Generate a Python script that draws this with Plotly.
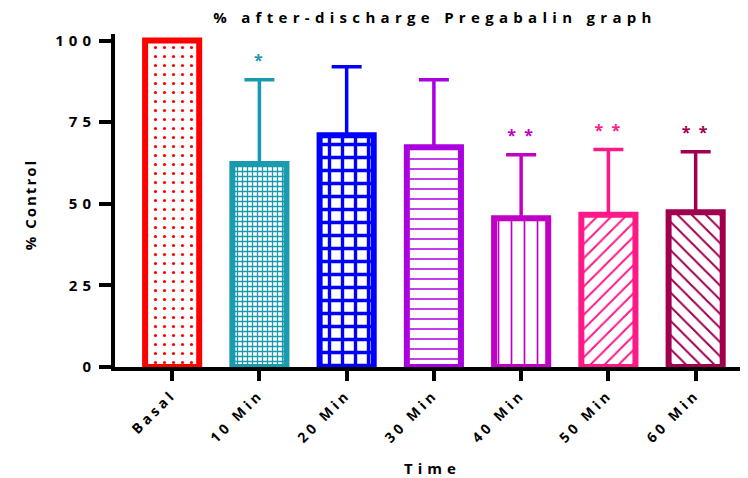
import plotly.graph_objects as go

categories = ["Basal", "10 Min", "20 Min", "30 Min", "40 Min", "50 Min", "60 Min"]
means = [100, 62.2, 71.0, 67.3, 45.6, 46.6, 47.4]
upper = [100, 88.0, 92.0, 88.0, 65.0, 66.6, 65.9]
signif = ["", "*", "", "", "* *", "* *", "* *"]
colors = ["#FF0000", "#1A9AAE", "#0000FF", "#AA00E0", "#C000C4", "#FF1887", "#A0004E"]
patterns = [".", "+", "+", "-", "|", "/", "\\"]
pat_size = [9, 5, 13, 10, 13, 10, 10]
pat_solid = [0.1, 0.45, 0.45, 0.15, 0.13, 0.2, 0.2]
yticks = [0, 25, 50, 75, 100]

FONT = "Open Sans"
W, H = 740, 470  # page body adds 8px offset


def spaced(s, px):
    return f'<span style="letter-spacing:{px}px">{s}</span>'


fig = go.Figure()
for i, c in enumerate(categories):
    err = upper[i] - means[i]
    fig.add_trace(go.Bar(
        x=[c], y=[means[i]], width=0.62,
        marker=dict(
            color=colors[i],
            line=dict(color=colors[i], width=6),
            pattern=dict(shape=patterns[i], fgcolor=colors[i], bgcolor="white",
                         size=pat_size[i], solidity=pat_solid[i], fillmode="replace"),
        ),
        error_y=dict(type="data", symmetric=False, array=[err], arrayminus=[0],
                     visible=err > 0, color=colors[i], thickness=3.5, width=15),
        showlegend=False, cliponaxis=False,
    ))

sx = [c for c, s in zip(categories, signif) if s]
sy = [u + 5.5 for u, s in zip(upper, signif) if s]
st = [spaced(s, 2) for s in signif if s]
sc = [col for col, s in zip(colors, signif) if s]
fig.add_trace(go.Scatter(
    x=sx, y=sy, mode="text", text=st,
    textfont=dict(color=sc, size=16, family=FONT, weight="bold"),
    showlegend=False, cliponaxis=False,
))

fig.update_layout(
    width=W, height=H,
    margin=dict(l=107, r=0, t=25.5, b=111, autoexpand=False),
    paper_bgcolor="white", plot_bgcolor="white",
    barmode="overlay",
    title=dict(text=spaced("% after-discharge Pregabalin graph", 5.3),
               x=(435 - 8) / W, xanchor="center", xref="container",
               y=1 - (18 - 8) / H, yanchor="middle", yref="container",
               font=dict(family=FONT, size=15, color="black", weight="bold")),
    font=dict(family=FONT, color="black"),
    annotations=[
        dict(text=spaced("Time", 5), xref="paper", yref="paper",
             x=(432 - 8 - 107) / (W - 107), y=-(468 - 367) / (H - 25.5 - 111),
             xanchor="center", yanchor="middle", showarrow=False,
             font=dict(family=FONT, size=15, weight="bold")),
        dict(text=spaced("% Control", 2), xref="paper", yref="paper",
             x=-(115 - 30) / (W - 107), y=(367 - 205) / (H - 25.5 - 111),
             xanchor="center", yanchor="middle", showarrow=False, textangle=-90,
             font=dict(family=FONT, size=15, weight="bold")),
    ],
)
fig.update_xaxes(
    categoryorder="array", categoryarray=categories,
    tickvals=categories, ticktext=[spaced(c, 3.6) for c in categories],
    range=[-0.655, 6.6], showline=True, linecolor="black", linewidth=4,
    ticks="outside", ticklen=10, tickwidth=4, tickcolor="black",
    tickangle=-45, showgrid=False, zeroline=False, automargin=False,
    tickfont=dict(family=FONT, size=14, weight="bold"),
)
fig.update_yaxes(
    range=[0, 102], tickvals=yticks, ticktext=[spaced(str(v), 5) for v in yticks],
    showline=True, linecolor="black", linewidth=4,
    ticks="outside", ticklen=12, tickwidth=4, tickcolor="black",
    showgrid=False, zeroline=False, automargin=False,
    tickfont=dict(family=FONT, size=15, weight="bold"),
)

fig.write_html("out.html")
